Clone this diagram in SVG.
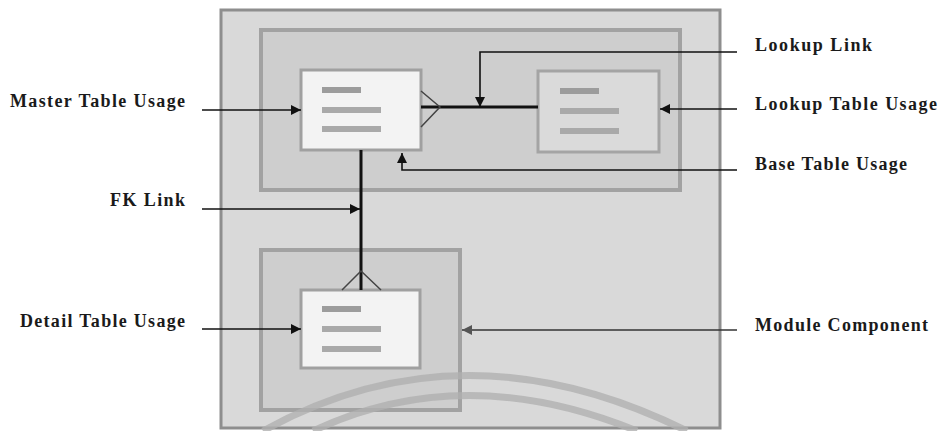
<svg xmlns="http://www.w3.org/2000/svg" width="939" height="431" viewBox="0 0 939 431">
<defs>
<marker id="ah" viewBox="0 0 10 10" refX="10" refY="5" markerWidth="10" markerHeight="10" markerUnits="userSpaceOnUse" orient="auto">
<path d="M0,0 L10,5 L0,10 Z" fill="#111"/>
</marker>
<marker id="ahg" viewBox="0 0 10 10" refX="10" refY="5" markerWidth="10" markerHeight="10" markerUnits="userSpaceOnUse" orient="auto">
<path d="M0,0 L10,5 L0,10 Z" fill="#555"/>
</marker>
</defs>
<style>
.lbl{font-weight:bold;font-size:18px;fill:#1a1a1a}
.frame{fill:#d9d9d9;stroke:#8e8e8e;stroke-width:3}
.cont{fill:#cecece;stroke:#a2a2a2;stroke-width:4}
.tbl{fill:#f3f3f3;stroke:#a0a0a0;stroke-width:3}
.tbl2{fill:#dadada;stroke:#a4a4a4;stroke-width:3}
.bar{fill:#a9a9a9}
.bar1{fill:#9c9c9c}
.link{stroke:#111;stroke-width:3;fill:none}
.crow{stroke:#444;stroke-width:1.5;fill:none}
.ann{stroke:#111;stroke-width:1.6;fill:none;marker-end:url(#ah)}
.anng{stroke:#333;stroke-width:1.6;fill:none;marker-end:url(#ahg)}
.arc{stroke:#b0b0b0;stroke-width:7;fill:none;opacity:0.8}
</style>
<rect width="939" height="431" fill="#ffffff"/>
<g id="module-frame">
<rect class="frame" x="221" y="10" width="499" height="418"/>
</g>
<g id="upper-container">
<rect class="cont" x="261" y="30" width="419" height="160"/>
</g>
<g id="detail-container">
<rect class="cont" x="261" y="250" width="199" height="160"/>
</g>
<g id="watermark">
<path class="arc" d="M263,431 Q463,320 687,431"/>
<path class="arc" d="M313,431 Q463,360 637,431"/>
</g>
<g id="master-table">
<rect class="tbl" x="301" y="70" width="120" height="80"/>
<rect class="bar1" x="322" y="87" width="39" height="6"/>
<rect class="bar" x="322" y="107" width="59" height="6"/>
<rect class="bar" x="322" y="126" width="59" height="6"/>
</g>
<g id="lookup-table">
<rect class="tbl2" x="538" y="71" width="121" height="81"/>
<rect class="bar1" x="560" y="88" width="39" height="6"/>
<rect class="bar" x="560" y="108" width="59" height="6"/>
<rect class="bar" x="560" y="128" width="59" height="6"/>
</g>
<g id="detail-table">
<rect class="tbl" x="301" y="290" width="119" height="78"/>
<rect class="bar1" x="322" y="306" width="39" height="6"/>
<rect class="bar" x="322" y="326" width="59" height="6"/>
<rect class="bar" x="322" y="346" width="59" height="6"/>
</g>
<g id="connectors">
<line class="link" x1="421" y1="107" x2="538" y2="107"/>
<path class="crow" d="M421,91 L440,107 L421,127"/>
<line class="link" x1="361" y1="150" x2="361" y2="290"/>
<path class="crow" d="M342,290 L361,271 L381,290"/>
<path class="ann" d="M737,52 L480,52 L480,107"/>
<path class="ann" d="M737,109 L660,109"/>
<path class="ann" d="M737,170 L402,170 L402,153"/>
<path class="ann" d="M202,110 L301,110"/>
<path class="ann" d="M202,209 L360,209"/>
<path class="ann" d="M202,329 L301,329"/>
<path class="anng" d="M737,330 L462,330"/>
</g>
<g id="labels" font-family="'Liberation Serif', 'DejaVu Serif', serif">
<text class="lbl" x="10" y="107" textLength="175" lengthAdjust="spacing">Master Table Usage</text>
<text class="lbl" x="110" y="206" textLength="75" lengthAdjust="spacing">FK Link</text>
<text class="lbl" x="20" y="327" textLength="165" lengthAdjust="spacing">Detail Table Usage</text>
<text class="lbl" x="755" y="51" textLength="117" lengthAdjust="spacing">Lookup Link</text>
<text class="lbl" x="755" y="110" textLength="182" lengthAdjust="spacing">Lookup Table Usage</text>
<text class="lbl" x="755" y="170" textLength="152" lengthAdjust="spacing">Base Table Usage</text>
<text class="lbl" x="755" y="331" textLength="173" lengthAdjust="spacing">Module Component</text>
</g>
</svg>
